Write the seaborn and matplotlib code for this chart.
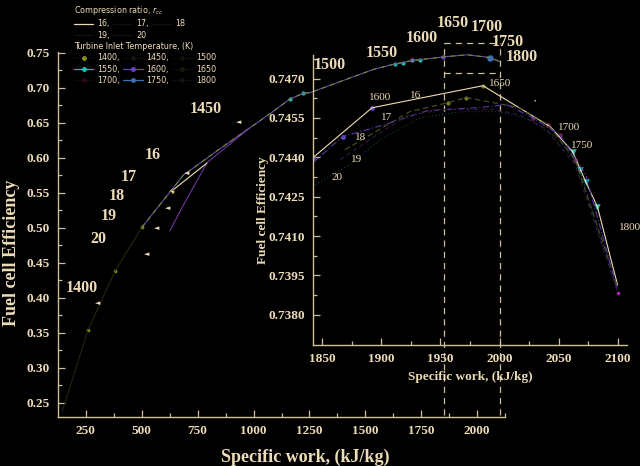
import numpy as np
import pandas as pd
import seaborn as sns
import matplotlib.pyplot as plt
from matplotlib.lines import Line2D
from matplotlib.font_manager import FontProperties

sns.set_theme(style="dark", rc={"axes.facecolor": "black", "figure.facecolor": "black",
                                "savefig.facecolor": "black", "axes.grid": False})
plt.rcParams['font.family'] = ['Liberation Serif', 'DejaVu Serif']
plt.rcParams['mathtext.fontset'] = 'dejavusans'

INK = '#eddcb8'
SPINE = '#cdbf9e'

# ---- main axes data (specific work kJ/kg, fuel cell efficiency) ----
lo_sw = [143, 259, 380, 501]
lo_eff = [0.237, 0.354, 0.438, 0.501]
hi_sw = [501, 685, 837, 984, 1074, 1163, 1222, 1253, 1535, 1633, 1669, 1710, 1745, 1848, 1956, 2059, 2103]
hi_eff = [0.501, 0.575, 0.610, 0.643, 0.663, 0.684, 0.692, 0.693, 0.726, 0.734, 0.736, 0.739, 0.740, 0.744, 0.747, 0.743, 0.737]
br_sw = [626, 680, 792, 984]
br_eff = [0.496, 0.529, 0.593, 0.643]
m1400_sw = [259, 380, 501]
m1400_eff = [0.354, 0.438, 0.501]
m1550_sw = [1163, 1222, 1633, 1669, 1710, 1745]
m1550_eff = [0.684, 0.692, 0.734, 0.736, 0.739, 0.740]
m1600_sw = [1848]
m1600_eff = [0.744]
m1800_sw = [2059]
m1800_eff = [0.743]
zoom_x = [1853, 2103]
zoom_y = [0.2330, 0.7215, 0.764]

# ---- inset data, one line per compression ratio ----
ratios = ['16', '17', '18', '19', '20']
sw16 = [1842, 1892, 1986, 2043, 2062, 2073, 2083, 2100]
ef16 = [0.74399, 0.74589, 0.74673, 0.74517, 0.74421, 0.74307, 0.74211, 0.73914]
sw17 = [1869, 1924, 1956, 1972, 2017, 2041, 2064, 2100]
ef17 = [0.74429, 0.74574, 0.74608, 0.74628, 0.74589, 0.74525, 0.74391, 0.73907]
sw18 = [1842, 1867, 1903, 1939, 1981, 2006, 2028, 2051, 2073, 2100]
ef18 = [0.74380, 0.74479, 0.74525, 0.74578, 0.74589, 0.74601, 0.74551, 0.74486, 0.74334, 0.73895]
sw19 = [1865, 1896, 1922, 1952, 1995, 2017, 2040, 2064, 2100]
ef19 = [0.74391, 0.74486, 0.74559, 0.74582, 0.74582, 0.74563, 0.74505, 0.74372, 0.73888]
sw20 = [1844, 1873, 1899, 1933, 1967, 2000, 2026, 2051, 2068, 2100]
ef20 = [0.74296, 0.74372, 0.74467, 0.74551, 0.74574, 0.74574, 0.74544, 0.74467, 0.74353, 0.73884]
i1600_sw = [1842, 1867, 1892]
i1600_ef = [0.74399, 0.74479, 0.74589]
i1650_sw = [1956, 1972, 1986]
i1650_ef = [0.74608, 0.74628, 0.74673]
i1700_sw = [2028, 2041, 2051, 2064]
i1700_ef = [0.74551, 0.74525, 0.74486, 0.74391]
i1750_sw = [2062, 2068, 2073, 2083]
i1750_ef = [0.74421, 0.74353, 0.74307, 0.74211]
i1800_sw = [2100]
i1800_ef = [0.73884]

tit_labels = ['1400', '1450', '1500', '1550', '1600', '1650', '1700', '1750', '1800']
tit_colors = ['#8c8c22', '#141414', '#12120a', '#22c0b2', '#6a44c8', '#1a1a0c',
              '#2a0a1a', '#3474b4', '#121212']
ratio_colors = [INK, '#4e5620', '#5a38a8', '#34183c', '#183c48']
ratio_styles = ['-', (0, (5, 3)), (0, (6, 2, 1, 2)), (0, (4, 3)), (0, (1, 2))]

fig = plt.figure(figsize=(6.4, 4.66), dpi=100)
ax = fig.add_axes([58/640, 1-417/466, (505-58)/640, (417-52)/466])
axi = fig.add_axes([313/640, 1-345/466, (627-313)/640, (345-55)/466])
axi.patch.set_alpha(0)

# main curves
sns.lineplot(x=lo_sw, y=lo_eff, ax=ax, sort=False, color='#2a2a14', lw=0.7)
sns.lineplot(x=hi_sw, y=hi_eff, ax=ax, sort=False, color='#6a4ea8', lw=0.8)
sns.lineplot(x=hi_sw, y=hi_eff, ax=ax, sort=False, color='#6d8a32', lw=0.8, linestyle=(0, (4, 4)))
sns.lineplot(x=br_sw, y=br_eff, ax=ax, sort=False, color='#7a3cb0', lw=0.7)
sns.scatterplot(x=m1400_sw, y=m1400_eff, ax=ax, color=tit_colors[0], s=7, linewidth=0)
sns.scatterplot(x=m1550_sw, y=m1550_eff, ax=ax, color=tit_colors[3], s=9, linewidth=0)
sns.scatterplot(x=m1600_sw, y=m1600_eff, ax=ax, color=tit_colors[4], s=10, linewidth=0)
sns.scatterplot(x=m1800_sw, y=m1800_eff, ax=ax, color=tit_colors[7], s=22, linewidth=0, marker='o')

# zoom box
for xv in zoom_x:
    ax.plot([xv, xv], [zoom_y[0], zoom_y[2]], color=SPINE, lw=0.9, ls=(0, (5, 4)), clip_on=False)
for yv in zoom_y[1:]:
    ax.plot(zoom_x, [yv, yv], color=SPINE, lw=0.9, ls=(0, (5, 4)), clip_on=False)

ax.set_xlim(125, 2125)
ax.set_ylim(0.23, 0.751)
ax.set_xticks(np.arange(250, 2001, 250))
ax.set_xticks(np.arange(375, 2126, 250), minor=True)
ax.set_yticks(np.arange(0.25, 0.751, 0.05))
ax.set_yticks(np.arange(0.275, 0.751, 0.05), minor=True)
ax.set_yticklabels([f'{v:.2f}' for v in np.arange(0.25, 0.751, 0.05)])

# inset curves
series = [(sw16, ef16), (sw17, ef17), (sw18, ef18), (sw19, ef19), (sw20, ef20)]
for (xs, ys), c, st in zip(series, ratio_colors, ratio_styles):
    sns.lineplot(x=xs, y=ys, ax=axi, sort=False, color=c, lw=0.8, linestyle=st)
sns.scatterplot(x=i1600_sw, y=i1600_ef, ax=axi, color=tit_colors[4], s=12, linewidth=0)
sns.scatterplot(x=i1650_sw, y=i1650_ef, ax=axi, color='#7a7a22', s=9, linewidth=0)
sns.scatterplot(x=i1700_sw, y=i1700_ef, ax=axi, color='#6a1a3c', s=12, linewidth=0)
sns.scatterplot(x=i1750_sw, y=i1750_ef, ax=axi, color=tit_colors[3], s=22, marker='v', linewidth=0)
sns.scatterplot(x=i1800_sw, y=i1800_ef, ax=axi, color='#b030c0', s=6, linewidth=0)

axi.set_xlim(1842, 2108)
axi.set_ylim(0.73685, 0.7479)
axi.set_xticks(np.arange(1850, 2101, 50))
axi.set_xticks(np.arange(1875, 2101, 50), minor=True)
yt = np.arange(0.7380, 0.74701, 0.0015)
axi.set_yticks(yt)
axi.set_yticks(yt + 0.00075, minor=True)
axi.set_yticklabels([f'{v:.4f}' for v in yt])

for a, fs in ((ax, 9.5), (axi, 9.5)):
    for s in ('top', 'right'):
        a.spines[s].set_visible(False)
    for s in ('left', 'bottom'):
        a.spines[s].set_visible(True)
        a.spines[s].set_color(SPINE)
        a.spines[s].set_linewidth(1.0)
    a.tick_params(which='both', direction='in', color=SPINE, labelcolor=INK,
                  labelsize=fs, bottom=True, left=True, width=0.9)
    a.tick_params(which='major', length=5, pad=6)
    a.tick_params(which='minor', length=3)
    for lab in a.get_xticklabels() + a.get_yticklabels():
        lab.set_fontweight('bold')
    a.set_xlabel('')
    a.set_ylabel('')

# axis titles
fig.text(305/640, 1-457/466, 'Specific work, (kJ/kg)', color=INK, fontsize=13,
         fontweight='bold', ha='center', va='center')
fig.text(12/640, 1-253/466, 'Fuel cell Efficiency', color=INK, fontsize=13,
         fontweight='bold', ha='center', va='center', rotation=90)
fig.text(470/640, 1-377/466, 'Specific work, (kJ/kg)', color=INK, fontsize=9.5,
         fontweight='bold', ha='center', va='center')
fig.text(263/640, 1-210/466, 'Fuel cell Efficiency', color=INK, fontsize=9.5,
         fontweight='bold', ha='center', va='center', rotation=90)

# annotations (figure pixel positions)
big_labels = [('1400', 82, 288), ('1450', 206, 109), ('16', 153, 155), ('17', 129, 177),
              ('18', 117, 196), ('19', 109, 216), ('20', 98, 239), ('1500', 330, 65),
              ('1550', 382, 53), ('1600', 422, 38), ('1650', 453, 23), ('1700', 487, 27),
              ('1750', 508, 42), ('1800', 522, 57)]
for s, px, py in big_labels:
    fig.text(px/640, 1-py/466, s, color=INK, fontsize=11.5, fontweight='bold',
             ha='center', va='center')
small_labels = [('1600', 380, 98), ('16', 416, 95), ('17', 387, 117), ('18', 361, 137),
                ('19', 357, 160), ('20', 337, 177), ('1650', 500, 84), ('1700', 569, 127),
                ('1750', 582, 146), ('1800', 630, 228)]
for s, px, py in small_labels:
    fig.text(px/640, 1-py/466, s, color=INK, fontsize=8, ha='center', va='center')
fig.text(535/640, 1-101/466, '•', color=INK, fontsize=5, ha='center', va='center')
arrow_heads = [(98, 303), (147, 254), (157, 228), (168, 208), (187, 173), (239, 122)]
for px, py in arrow_heads:
    fig.text(px/640, 1-py/466, '◄', color=INK, fontsize=5, ha='center', va='center',
             family='DejaVu Sans')
fig.text(171/640, 1-191/466, '◄', color='#e8d080', fontsize=5, ha='center', va='center',
         family='DejaVu Sans', rotation=-35)
fig.add_artist(Line2D([173/640, 207/640], [1-190/466, 1-163/466], color=INK, lw=0.8))

# legends
lfont = FontProperties(family='DejaVu Sans', size=5.8)
ord5 = [0, 3, 1, 4, 2]
h1 = [Line2D([], [], color=ratio_colors[i] if i == 0 else '#101010', lw=0.9) for i in ord5]
l1 = [ratios[i] + (',' if i not in (2, 4) else '') for i in ord5]
leg_kw = dict(loc='upper left', ncol=3, frameon=False, alignment='left', prop=lfont,
              title_fontproperties=lfont, handlelength=2.4, columnspacing=0.4,
              labelspacing=0.3, handletextpad=0.5, borderpad=0.0, labelcolor=INK)
leg1 = fig.legend(h1, l1, bbox_to_anchor=(70/640, 1-0/466),
                  title='Compression ratio, $r_{cc}$', **leg_kw)
leg1.get_title().set_color(INK)
ord9 = [0, 3, 6, 1, 4, 7, 2, 5, 8]
h2 = [Line2D([], [], color=tit_colors[i] if i in (3, 4, 7) else '#0c0c0c', lw=0.9,
             marker='o', markersize=2.5, markerfacecolor=tit_colors[i],
             markeredgecolor=tit_colors[i]) for i in ord9]
l2 = [tit_labels[i] + (',' if i % 3 != 2 else '') for i in ord9]
leg2 = fig.legend(h2, l2, bbox_to_anchor=(70/640, 1-38/466),
                  title='Turbine Inlet Temperature, (K)', **leg_kw)
leg2.get_title().set_color(INK)

fig.savefig('out.png', dpi=100, facecolor='black')
